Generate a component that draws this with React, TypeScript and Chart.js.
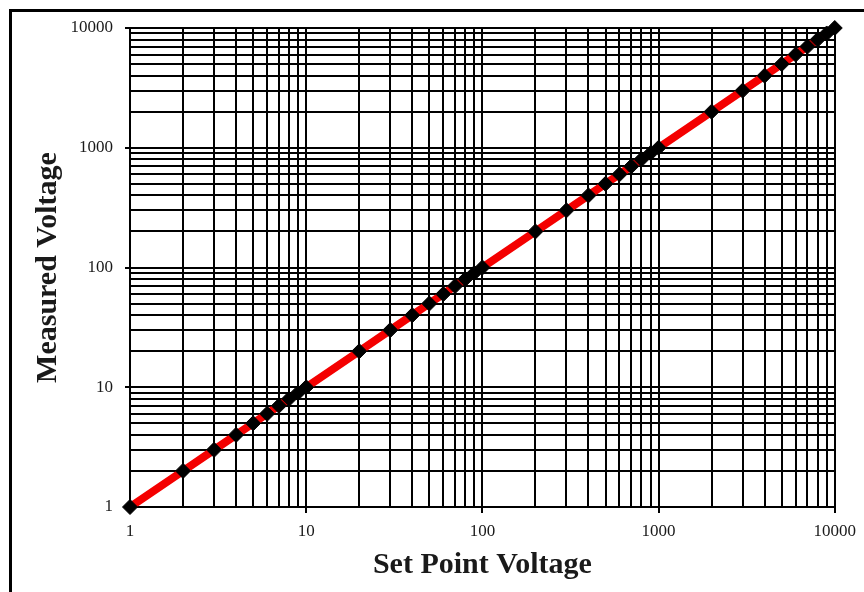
import React, { useEffect, useRef } from 'react';
import { Chart, registerables } from 'chart.js';

Chart.register(...registerables);

const setPointVoltage = [
  1, 2, 3, 4, 5, 6, 7, 8, 9, 10,
  20, 30, 40, 50, 60, 70, 80, 90, 100,
  200, 300, 400, 500, 600, 700, 800, 900, 1000,
  2000, 3000, 4000, 5000, 6000, 7000, 8000, 9000, 10000,
];
const measuredVoltage = [
  1, 2, 3, 4, 5, 6, 7, 8, 9, 10,
  20, 30, 40, 50, 60, 70, 80, 90, 100,
  200, 300, 400, 500, 600, 700, 800, 900, 1000,
  2000, 3000, 4000, 5000, 6000, 7000, 8000, 9000, 10000,
];
const decadeLabels = [1, 10, 100, 1000, 10000];
const gridMantissas = [1, 2, 3, 4, 5, 6, 7, 8, 9];

const gridValues: number[] = [];
decadeLabels.forEach((d, i) => {
  if (i === decadeLabels.length - 1) {
    gridValues.push(d);
  } else {
    gridMantissas.forEach((m) => gridValues.push(m * d));
  }
});

const isMajor = (v: number) => decadeLabels.includes(Math.round(v));

const framePlugin = {
  id: 'frame',
  beforeDraw(chart: any) {
    const ctx = chart.ctx;
    ctx.save();
    ctx.fillStyle = '#ffffff';
    ctx.fillRect(0, 0, chart.width, chart.height);
    ctx.strokeStyle = '#000000';
    ctx.lineWidth = 3;
    ctx.beginPath();
    ctx.moveTo(10.5, chart.height + 2);
    ctx.lineTo(10.5, 10.5);
    ctx.lineTo(chart.width + 2, 10.5);
    ctx.stroke();
    ctx.restore();
  },
};

export default function App() {
  const canvasRef = useRef<HTMLCanvasElement | null>(null);

  useEffect(() => {
    document.body.style.margin = '0';
    const canvas = canvasRef.current;
    if (!canvas) return;
    const buildTicks = (scale: any) => {
      scale.ticks = gridValues.map((v) => ({ value: v, major: isMajor(v) }));
    };
    const tickFont = { family: '"Liberation Serif", "Times New Roman", serif', size: 17 };
    const titleFont = { family: '"Liberation Serif", "Times New Roman", serif', size: 30, weight: 'bold' as const };
    const chart = new Chart(canvas, {
      type: 'line',
      data: {
        datasets: [
          {
            label: 'Measured Voltage',
            data: setPointVoltage.map((x, i) => ({ x, y: measuredVoltage[i] })),
            borderColor: '#f40000',
            borderWidth: 8,
            pointStyle: 'rectRot',
            pointRadius: 7.5,
            pointBackgroundColor: '#000000',
            pointBorderColor: '#000000',
            pointBorderWidth: 1,
            tension: 0,
            clip: false,
          },
        ],
      },
      plugins: [framePlugin],
      options: {
        animation: false,
        responsive: false,
        maintainAspectRatio: false,
        layout: { padding: { top: 28, right: 28, left: 0, bottom: 0 } },
        plugins: {
          legend: { display: false },
          tooltip: { enabled: false },
        },
        scales: {
          x: {
            type: 'logarithmic',
            min: 1,
            max: 10000,
            afterBuildTicks: buildTicks,
            afterFit: (scale: any) => {
              scale.height = 85;
            },
            border: { display: true, color: '#000000', width: 2 },
            grid: {
              color: '#000000',
              lineWidth: 2,
              drawTicks: true,
              tickLength: 6,
              tickColor: (ctx: any) => (ctx.tick && isMajor(ctx.tick.value) ? '#000000' : 'rgba(0,0,0,0)'),
            },
            ticks: {
              autoSkip: false,
              maxRotation: 0,
              padding: 8,
              color: '#1a1a1a',
              font: tickFont,
              callback: (value: any) => (isMajor(Number(value)) ? String(Math.round(Number(value))) : ''),
            },
            title: {
              display: true,
              text: 'Set Point Voltage',
              color: '#1a1a1a',
              font: titleFont,
              padding: { top: 0, bottom: 9 },
            },
          },
          y: {
            type: 'logarithmic',
            min: 1,
            max: 10000,
            afterBuildTicks: buildTicks,
            afterFit: (scale: any) => {
              scale.width = 130;
            },
            border: { display: true, color: '#000000', width: 2 },
            grid: {
              color: '#000000',
              lineWidth: 2,
              drawTicks: true,
              tickLength: 5,
              tickColor: (ctx: any) => (ctx.tick && isMajor(ctx.tick.value) ? '#000000' : 'rgba(0,0,0,0)'),
            },
            ticks: {
              autoSkip: false,
              padding: 12,
              color: '#1a1a1a',
              font: tickFont,
              callback: (value: any) => (isMajor(Number(value)) ? String(Math.round(Number(value))) : ''),
            },
            title: {
              display: true,
              text: 'Measured Voltage',
              color: '#1a1a1a',
              font: titleFont,
              padding: { top: 30, bottom: 0 },
            },
          },
        },
      },
    });
    return () => chart.destroy();
  }, []);

  return (
    <div style={{ width: 864, height: 592, position: 'relative' }}>
      <canvas ref={canvasRef} width={864} height={592} style={{ display: 'block', width: 864, height: 592 }} />
    </div>
  );
}
